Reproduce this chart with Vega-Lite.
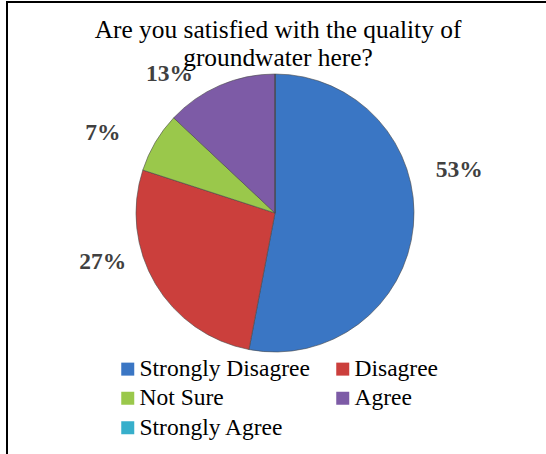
{
  "$schema": "https://vega.github.io/schema/vega-lite/v6.json",
  "width": 560,
  "height": 460,
  "autosize": {"type": "none"},
  "padding": {"left": 7, "top": 2, "right": 0, "bottom": 0},
  "background": "white",
  "config": {"view": {"stroke": null}},
  "title": {
    "text": ["Are you satisfied with the quality of", "groundwater here?"],
    "font": "Times New Roman, Liberation Serif, serif",
    "fontSize": 25.4,
    "fontWeight": "normal",
    "color": "black",
    "lineHeight": 28,
    "anchor": "middle",
    "frame": "group",
    "offset": -115,
    "dx": -9
  },
  "data": {
    "values": [
      {"Response": "Strongly Disagree", "Share": 0.53, "Rank": 1},
      {"Response": "Disagree", "Share": 0.27, "Rank": 2},
      {"Response": "Not Sure", "Share": 0.07, "Rank": 3},
      {"Response": "Agree", "Share": 0.13, "Rank": 4},
      {"Response": "Strongly Agree", "Share": 0.0, "Rank": 5}
    ]
  },
  "layer": [
    {
      "data": {"values": [{"frame": 1}]},
      "mark": {"type": "rect", "fill": null, "fillOpacity": 0, "stroke": "black", "strokeWidth": 2},
      "encoding": {}
    },
    {
      "mark": {"type": "arc", "outerRadius": 139, "stroke": "#4a4a4a", "strokeWidth": 0.6, "xOffset": -12, "yOffset": -19},
      "encoding": {
        "theta": {"field": "Share", "type": "quantitative", "stack": true},
        "order": {"field": "Rank", "type": "quantitative"},
        "color": {
          "field": "Response",
          "type": "nominal",
          "scale": {
            "domain": ["Strongly Disagree", "Disagree", "Not Sure", "Agree", "Strongly Agree"],
            "range": ["#3A76C4", "#CB3F3C", "#9AC84B", "#7D5BA6", "#37AFCB"]
          },
          "legend": {
            "orient": "none",
            "legendX": 109,
            "legendY": 355,
            "columns": 2,
            "direction": "horizontal",
            "title": null,
            "symbolType": "square",
            "symbolSize": 169,
            "symbolStrokeWidth": 0,
            "symbolOpacity": 1,
            "labelFont": "Times New Roman, Liberation Serif, serif",
            "labelFontSize": 23.5,
            "labelColor": "black",
            "labelOffset": 0,
            "labelLimit": 300,
            "rowPadding": 4.5,
            "columnPadding": 21,
            "padding": 0
          }
        }
      }
    },
    {
      "mark": {"type": "text", "radius": 185, "font": "Times New Roman, Liberation Serif, serif", "fontSize": 23.5, "fontWeight": "bold", "xOffset": -12, "yOffset": -19, "dy": -60},
      "encoding": {
        "theta": {"field": "Share", "type": "quantitative", "stack": true},
        "order": {"field": "Rank", "type": "quantitative"},
        "color": {"value": "#404040"},
        "text": {"condition": {"test": "datum.Response === 'Strongly Disagree'", "field": "Share", "type": "quantitative", "format": ".0%"}, "value": ""}
      }
    },
    {
      "mark": {"type": "text", "radius": 185, "font": "Times New Roman, Liberation Serif, serif", "fontSize": 23.5, "fontWeight": "bold", "xOffset": -12, "yOffset": -19, "dx": -13, "dy": -45},
      "encoding": {
        "theta": {"field": "Share", "type": "quantitative", "stack": true},
        "order": {"field": "Rank", "type": "quantitative"},
        "color": {"value": "#404040"},
        "text": {"condition": {"test": "datum.Response === 'Disagree'", "field": "Share", "type": "quantitative", "format": ".0%"}, "value": ""}
      }
    },
    {
      "mark": {"type": "text", "radius": 185, "font": "Times New Roman, Liberation Serif, serif", "fontSize": 23.5, "fontWeight": "bold", "xOffset": -12, "yOffset": -19, "dx": -13, "dy": 14},
      "encoding": {
        "theta": {"field": "Share", "type": "quantitative", "stack": true},
        "order": {"field": "Rank", "type": "quantitative"},
        "color": {"value": "#404040"},
        "text": {"condition": {"test": "datum.Response === 'Not Sure'", "field": "Share", "type": "quantitative", "format": ".0%"}, "value": ""}
      }
    },
    {
      "mark": {"type": "text", "radius": 185, "font": "Times New Roman, Liberation Serif, serif", "fontSize": 23.5, "fontWeight": "bold", "xOffset": -12, "yOffset": -19, "dx": -32, "dy": 31},
      "encoding": {
        "theta": {"field": "Share", "type": "quantitative", "stack": true},
        "order": {"field": "Rank", "type": "quantitative"},
        "color": {"value": "#404040"},
        "text": {"condition": {"test": "datum.Response === 'Agree'", "field": "Share", "type": "quantitative", "format": ".0%"}, "value": ""}
      }
    }
  ]
}
